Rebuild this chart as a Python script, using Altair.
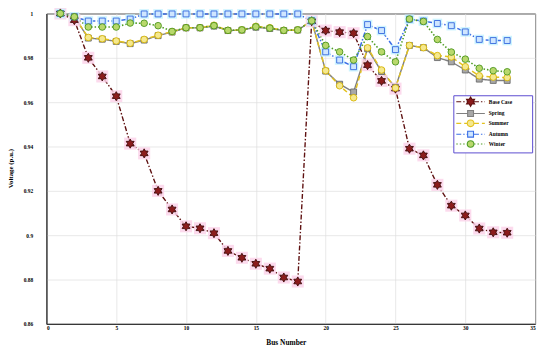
import altair as alt
import pandas as pd

buses = list(range(1, 34))
series_names = ["Base Case", "Spring", "Summer", "Autumn", "Winter"]

base_case = [1.0, 0.997, 0.980, 0.9716, 0.9627, 0.9413, 0.9369, 0.920, 0.9116, 0.904,
             0.9031, 0.9009, 0.8929, 0.8898, 0.8871, 0.8849, 0.8809, 0.8791, 0.9965, 0.9923,
             0.9916, 0.9911, 0.9767, 0.9696, 0.9661, 0.939, 0.936, 0.9227, 0.9133, 0.9089,
             0.903, 0.9013, 0.9011]
spring = [1.0, 0.9985, 0.9889, 0.9884, 0.9874, 0.9864, 0.9880, 0.9900, 0.9916, 0.9935,
          0.9935, 0.9943, 0.9923, 0.9925, 0.9938, 0.9932, 0.9923, 0.9925, 0.9967, 0.9740,
          0.9681, 0.9646, 0.9841, 0.9738, 0.9667, 0.9856, 0.9846, 0.9801, 0.9782, 0.9745,
          0.9704, 0.9698, 0.9698]
summer = [1.0, 0.9985, 0.9892, 0.9886, 0.9876, 0.9866, 0.9883, 0.9902, 0.9918, 0.9936,
          0.9936, 0.9947, 0.9924, 0.9926, 0.9942, 0.9936, 0.9924, 0.9926, 0.9967, 0.9742,
          0.9674, 0.9620, 0.9845, 0.9745, 0.9664, 0.9856, 0.9846, 0.9810, 0.9804, 0.9760,
          0.9719, 0.9713, 0.9711]
autumn = [1.0, 0.9985, 0.9966, 0.9966, 0.9966, 0.9975, 0.9998, 0.9998, 0.9998, 0.9998,
          0.9998, 0.9998, 0.9998, 0.9998, 0.9998, 0.9998, 0.9998, 0.9998, 0.9967, 0.9827,
          0.9790, 0.9760, 0.9950, 0.9923, 0.9837, 0.9974, 0.9966, 0.9955, 0.9945, 0.9917,
          0.9883, 0.9878, 0.9878]
winter = [1.0, 0.9985, 0.9939, 0.9939, 0.9939, 0.9957, 0.9956, 0.9945, 0.9919, 0.9936,
          0.9936, 0.9945, 0.9924, 0.9926, 0.9940, 0.9934, 0.9924, 0.9926, 0.9967, 0.9856,
          0.9827, 0.9790, 0.9896, 0.9827, 0.9782, 0.9975, 0.9964, 0.9883, 0.9826, 0.9794,
          0.9753, 0.9742, 0.9737]

x_ticks = [0, 5, 10, 15, 20, 25, 30, 35]
y_ticks = [0.86, 0.88, 0.9, 0.92, 0.94, 0.96, 0.98, 1.0]

rows = []
for name, vals in zip(series_names, [base_case, spring, summer, autumn, winter]):
    for b, v in zip(buses, vals):
        rows.append({"series": name, "bus": b, "voltage": v})
df = pd.DataFrame(rows)

line_colors = ["#5e1010", "#808080", "#e3c21f", "#3b6fe6", "#4f9d25"]
line_dashes = [[5, 2, 1.5, 2], [1, 0], [5, 3], [5, 2, 1.5, 2], [1.5, 2]]
line_widths = [2.0, 1.5, 1.7, 1.4, 1.6]
marker_fill = ["#8b1c1c", "#a8a8a8", "#f5e88f", "#cfe6ff", "#b9d86c"]
marker_stroke = ["#3d0a0a", "#6a6a6a", "#d6b400", "#3366dd", "#4a951c"]

FONT = "Liberation Serif"

STAR = "M0,-1L0.2887,-0.5L0.866,-0.5L0.5774,0L0.866,0.5L0.2887,0.5L0,1L-0.2887,0.5L-0.866,0.5L-0.5774,0L-0.866,-0.5L-0.2887,-0.5Z"


def scaled(path, k):
    out = []
    num = ""
    for ch in path:
        if ch in "0123456789.-":
            num += ch
        else:
            if num:
                out.append(str(round(float(num) * k, 4)))
                num = ""
            out.append(ch)
    if num:
        out.append(str(round(float(num) * k, 4)))
    return "".join(out)


def dash_segments(pattern, x0, x1, unit=3.5):
    segs = []
    x = x0
    i = 0
    on = True
    while x < x1 - 1e-6:
        length = pattern[i % len(pattern)] / unit
        nx = min(x + length, x1)
        if on and length > 0:
            segs.append("M%.3f,0L%.3f,0" % (x, nx))
        x = nx
        on = not on
        i += 1
    return "".join(segs)


legend_markers = [
    scaled(STAR, 1.35),
    "M-0.85,-0.85L0.85,-0.85L0.85,0.85L-0.85,0.85Z",
    "M-0.95,0A0.95,0.95 0 1,0 0.95,0A0.95,0.95 0 1,0 -0.95,0Z",
    "M-0.85,-0.85L0.85,-0.85L0.85,0.85L-0.85,0.85Z",
    "M-0.95,0A0.95,0.95 0 1,0 0.95,0A0.95,0.95 0 1,0 -0.95,0Z",
]
HALF = 4.14
legend_paths = []
for dash, mk in zip(line_dashes, legend_markers):
    p = dash if dash != [1, 0] else [100, 0]
    legend_paths.append(dash_segments(p, -HALF, -1.0) + dash_segments(p, 1.0, HALF) + mk)

# trailing no-break spaces (kept by a zero-width space) widen the legend box
pad = "\u00a0" * 13 + "\u200b"
legend = alt.Legend(
    orient="none", legendX=413, legendY=83, title=None, direction="vertical",
    padding=2, rowPadding=-2.7, symbolSize=49, symbolOffset=11, labelOffset=14,
    labelFont=FONT, labelFontWeight="bold", labelFontSize=5.5, labelColor="black",
    strokeColor="#5b4bd0", fillColor="white", symbolStrokeWidth=1.1, symbolOpacity=1,
    labelExpr="datum.label + '" + pad + "'",
)

xscale = alt.Scale(domain=[0, 35], nice=False)
yscale = alt.Scale(domain=[0.86, 1.0], nice=False)

xaxis = alt.Axis(values=x_ticks, format="d", labelFont=FONT, labelFontSize=5.5,
                 labelFontWeight="bold", labelColor="black", labelPadding=2, ticks=False,
                 domainColor="#222", gridColor="#dedede", gridWidth=0.7,
                 title="Bus Number", titleFont=FONT, titleFontSize=7.5, titleFontWeight="bold",
                 titleColor="black", titleX=243, titleY=19, titleBaseline="middle")
yaxis = alt.Axis(values=y_ticks, format="~g", labelFont=FONT, labelFontSize=5.5,
                 labelFontWeight="bold", labelColor="black", labelPadding=14, ticks=False,
                 domainColor="#222", gridColor="#dedede", gridWidth=0.7,
                 title="Voltage (p.u.)", titleFont=FONT, titleFontSize=7, titleFontWeight="bold",
                 titleColor="black", titleX=-36, titleY=157, titleAngle=270,
                 titleAlign="center", titleBaseline="middle")

base = alt.Chart(df)

# the line layer's scales list the series in reverse so that its (hidden) legends
# are not merged with the visible legend below
rev_names = series_names[::-1]
lines = base.mark_line().encode(
    x=alt.X("bus:Q", scale=xscale, axis=xaxis),
    y=alt.Y("voltage:Q", scale=yscale, axis=yaxis),
    color=alt.Color("series:N", scale=alt.Scale(domain=rev_names, range=line_colors[::-1]), legend=None),
    strokeDash=alt.StrokeDash("series:N", scale=alt.Scale(domain=rev_names, range=line_dashes[::-1]), legend=None),
    strokeWidth=alt.StrokeWidth("series:N", scale=alt.Scale(domain=rev_names, range=line_widths[::-1]), legend=None),
)

layers = [lines]

# soft halos seen behind the Base Case and Autumn markers
for name, col, sz in [("Base Case", "#fbd3ea", 150), ("Autumn", "#c6f2ff", 95)]:
    layers.append(
        base.transform_filter(alt.datum.series == name)
        .mark_square(color=col, opacity=0.85, size=sz)
        .encode(x="bus:Q", y="voltage:Q")
    )

shapes = [STAR, "square", "circle", "square", "circle"]
sizes = [85, 36, 45, 36, 45]
for i, name in enumerate(series_names):
    layers.append(
        base.transform_filter(alt.datum.series == name)
        .mark_point(shape=shapes[i], filled=True, fill=marker_fill[i], stroke=marker_stroke[i],
                    strokeWidth=0.9, size=sizes[i], opacity=1)
        .encode(x="bus:Q", y="voltage:Q")
    )

# legend-only layer (no rows drawn; the legend comes from the explicit scale domains)
legend_layer = base.transform_filter("false").mark_point(filled=True, opacity=1, strokeWidth=1.1).encode(
    x="bus:Q", y="voltage:Q",
    shape=alt.Shape("series:N", scale=alt.Scale(domain=series_names, range=legend_paths), legend=legend),
    stroke=alt.Stroke("series:N", scale=alt.Scale(domain=series_names, range=line_colors), legend=legend),
    fill=alt.Fill("series:N", scale=alt.Scale(domain=series_names, range=marker_fill), legend=legend),
)
layers.append(legend_layer)

chart = alt.layer(*layers).properties(
    width=496, height=315,
    autosize=alt.AutoSizeParams(type="none"),
    padding={"left": 39, "top": 3, "right": 7, "bottom": 26},
    background="white",
).configure_view(stroke="#222", strokeWidth=1)

chart.save("out.html", embed_options={"renderer": "svg", "actions": False})
